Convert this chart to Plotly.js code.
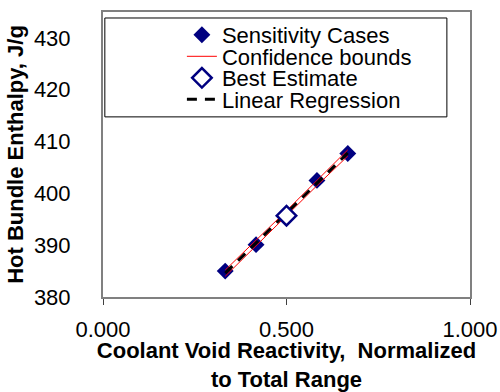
<!DOCTYPE html>
<html>
<head>
<meta charset="utf-8">
<script src="https://cdn.plot.ly/plotly-3.0.1.min.js"></script>
<style>
  html, body { margin: 0; padding: 0; background: #ffffff; }
  #chart { width: 500px; height: 392px; }
</style>
</head>
<body>
<div id="chart"></div>
<script>
// Sensitivity cases: normalized coolant void reactivity vs hot bundle enthalpy (J/g)
const caseX = [0.333, 0.417, 0.583, 0.667];
const caseY = [385.0, 390.1, 402.5, 407.7];

// Best estimate case
const bestX = [0.5];
const bestY = [395.7];

// Linear regression line and its confidence bounds
const fitX = [0.333, 0.417, 0.5, 0.583, 0.667];
const fitY = [384.6, 390.4, 396.2, 402.0, 407.8];
const upperY = [385.2, 390.9, 396.65, 402.5, 408.4];
const lowerY = [384.0, 389.9, 395.75, 401.5, 407.2];

const FONT = 'Arial, "Liberation Sans", sans-serif';
const NAVY = '#000080';

const traces = [
  {
    x: caseX, y: caseY, name: 'Sensitivity Cases', type: 'scatter', mode: 'markers',
    marker: { symbol: 'diamond', size: 13, color: NAVY, line: { width: 0 } },
    legend: 'legend'
  },
  {
    x: fitX, y: upperY, name: 'Confidence bounds', type: 'scatter', mode: 'lines',
    line: { color: '#ff0000', width: 1 }, legend: 'legend2'
  },
  {
    x: fitX, y: lowerY, name: 'Confidence bounds', type: 'scatter', mode: 'lines',
    line: { color: '#ff0000', width: 1 }, showlegend: false
  },
  {
    x: fitX, y: fitY, name: 'Linear Regression', type: 'scatter', mode: 'lines',
    line: { color: '#000000', width: 3, dash: '10px,8px' }, legend: 'legend4'
  },
  {
    x: bestX, y: bestY, name: 'Best Estimate', type: 'scatter', mode: 'markers',
    marker: { symbol: 'diamond', size: 15, color: '#ffffff', line: { color: NAVY, width: 2.5 } },
    legend: 'legend3'
  }
];

// One legend per row keeps the entries tightly stacked inside the framed box
const plotTop = 12, plotBottom = 297;
function rowLegend(ypx) {
  return {
    x: 0.215, y: (plotBottom - ypx) / (plotBottom - plotTop),
    xanchor: 'left', yanchor: 'middle',
    bgcolor: 'rgba(0,0,0,0)', borderwidth: 0,
    font: { family: FONT, size: 22, color: '#000000' }
  };
}

const layout = {
  width: 500, height: 392,
  margin: { l: 103, r: 30, t: plotTop, b: 392 - plotBottom },
  paper_bgcolor: '#ffffff', plot_bgcolor: '#ffffff',
  font: { family: FONT, size: 22, color: '#000000' },
  showlegend: true,
  legend: rowLegend(35),
  legend2: rowLegend(56.5),
  legend3: rowLegend(78),
  legend4: rowLegend(99.5),
  xaxis: {
    range: [0, 1], tickvals: [0, 0.5, 1], ticktext: ['0.000', '0.500', '1.000'],
    showgrid: false, zeroline: false,
    showline: true, linecolor: '#808080', linewidth: 2, mirror: true,
    ticks: 'outside', ticklen: 6, tickcolor: '#404040', tickwidth: 1,
    ticklabelstandoff: 6,
    tickfont: { family: FONT, size: 22, color: '#000000' },
    title: {
      text: '<b>Coolant Void Reactivity,&nbsp; Normalized<br>to Total Range</b>',
      font: { family: FONT, size: 22, color: '#000000' },
      standoff: 0
    }
  },
  yaxis: {
    range: [380, 435], tickvals: [380, 390, 400, 410, 420, 430],
    showgrid: false, zeroline: false,
    showline: true, linecolor: '#808080', linewidth: 2, mirror: true,
    ticks: '', ticklabelstandoff: 26,
    tickfont: { family: FONT, size: 22, color: '#000000' },
    title: {
      text: '<b>Hot Bundle Enthalpy, J/g</b>',
      font: { family: FONT, size: 22, color: '#000000' },
      standoff: 4
    }
  },
  shapes: [
    {
      type: 'rect', xref: 'paper', yref: 'paper', layer: 'below',
      x0: 0.005, x1: 0.937, y0: 0.632, y1: 0.979,
      line: { color: '#000000', width: 1 }, fillcolor: '#ffffff'
    }
  ]
};

Plotly.newPlot('chart', traces, layout, { displayModeBar: false, staticPlot: true });
</script>
</body>
</html>
